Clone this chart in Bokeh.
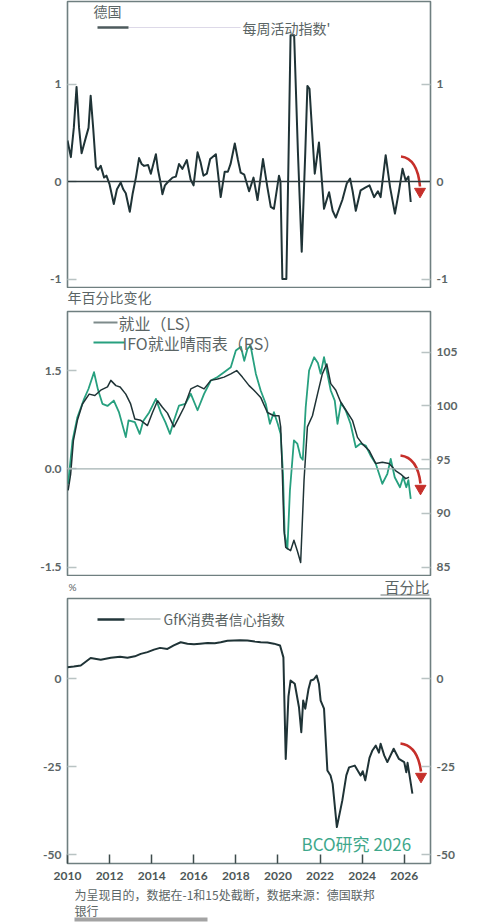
from bokeh.plotting import figure
from bokeh.layouts import column
from bokeh.models import Range1d, LinearAxis, Span, Label, FixedTicker
from bokeh.embed import file_html
from bokeh.resources import INLINE

# ---------------- data ----------------
wai_years = [2010.0, 2010.16, 2010.3, 2010.43, 2010.55, 2010.67, 2010.87, 2011.0, 2011.1, 2011.22,
             2011.35, 2011.45, 2011.58, 2011.74, 2011.85, 2012.0, 2012.2, 2012.35, 2012.53, 2012.65,
             2012.77, 2012.96, 2013.1, 2013.25, 2013.4, 2013.52, 2013.64, 2013.83, 2013.96, 2014.2,
             2014.3, 2014.43, 2014.51, 2014.63, 2014.75, 2014.99, 2015.15, 2015.3, 2015.46, 2015.67,
             2015.85, 2015.99, 2016.18, 2016.32, 2016.46, 2016.62, 2016.78, 2017.05, 2017.28, 2017.47,
             2017.62, 2017.75, 2017.95, 2018.1, 2018.23, 2018.4, 2018.63, 2018.84, 2019.03, 2019.15,
             2019.29, 2019.5, 2019.66, 2019.81, 2020.05, 2020.12, 2020.21, 2020.4, 2020.5, 2020.6,
             2020.77, 2020.95, 2021.13, 2021.3, 2021.4, 2021.5, 2021.75, 2021.95, 2022.19, 2022.3,
             2022.43, 2022.6, 2022.75, 2023.06, 2023.27, 2023.43, 2023.55, 2023.7, 2023.93, 2024.17,
             2024.35, 2024.57, 2024.75, 2024.88, 2025.12, 2025.33, 2025.56, 2025.75, 2025.92, 2026.07,
             2026.2, 2026.31]
wai_values = [0.42, 0.25, 0.55, 0.97, 0.55, 0.29, 0.45, 0.55, 0.88, 0.55,
              0.15, 0.12, 0.16, 0.04, 0.06, -0.03, -0.23, -0.08, -0.01, -0.08,
              -0.12, -0.31, -0.12, 0.04, 0.24, 0.18, 0.16, 0.17, 0.08, 0.28,
              0.12, -0.02, -0.13, -0.04, -0.01, 0.04, 0.05, 0.18, 0.13, 0.22,
              0.02, -0.04, 0.30, 0.20, 0.06, 0.08, 0.23, 0.28, -0.16, 0.10,
              0.10, 0.18, 0.39, 0.22, 0.09, 0.07, -0.10, 0.04, -0.19, 0.00,
              0.23, -0.06, -0.26, -0.28, 0.06, 0.00, -1.0, -1.0, 0.20, 1.5,
              1.5, 0.30, -0.72, 0.30, 0.98, 0.95, 0.08, 0.40, -0.28, -0.20,
              -0.11, -0.30, -0.37, -0.19, -0.02, 0.03, -0.10, -0.30, -0.09, -0.06,
              -0.04, -0.16, -0.10, -0.16, 0.27, -0.06, -0.33, -0.10, 0.13, 0.01,
              0.05, -0.21]

emp_years = [2010.03, 2010.15, 2010.28, 2010.47, 2010.71, 2011.03, 2011.3, 2011.58, 2011.9, 2012.06,
             2012.3, 2012.5, 2012.77, 2013.0, 2013.2, 2013.48, 2013.8, 2014.04, 2014.28, 2014.51,
             2014.75, 2015.06, 2015.3, 2015.54, 2015.86, 2016.18, 2016.49, 2016.81, 2017.13, 2017.44,
             2017.76, 2018.04, 2018.31, 2018.63, 2018.86, 2019.18, 2019.5, 2019.81, 2020.05, 2020.13,
             2020.21, 2020.29, 2020.37, 2020.6, 2020.76, 2020.92, 2021.08, 2021.24, 2021.4, 2021.64,
             2021.88, 2022.11, 2022.32, 2022.51, 2022.75, 2022.98, 2023.3, 2023.54, 2023.78, 2024.01,
             2024.33, 2024.65, 2024.96, 2025.28, 2025.6, 2025.83, 2026.07, 2026.23]
emp_values = [-0.33, -0.08, 0.43, 0.74, 0.99, 1.14, 1.12, 1.20, 1.25, 1.35,
              1.27, 1.25, 1.14, 0.99, 0.76, 0.74, 0.66, 0.86, 1.04, 0.94,
              0.85, 0.64, 0.79, 0.94, 1.22, 1.27, 1.22, 1.35, 1.37, 1.40,
              1.45, 1.50, 1.40, 1.27, 1.20, 1.09, 0.86, 0.81, 0.81, 0.64,
              -0.08, -0.94, -1.20, -1.25, -1.09, -1.25, -1.43, -0.18, 0.64, 0.81,
              1.14, 1.45, 1.60, 1.30, 1.20, 1.02, 0.86, 0.74, 0.48, 0.38,
              0.28, 0.08, 0.10, 0.08, -0.03, -0.08, -0.15, -0.13]

ifo_years = [2010.03, 2010.24, 2010.47, 2010.79, 2011.0, 2011.26, 2011.45, 2011.66, 2011.9, 2012.2,
             2012.45, 2012.77, 2012.9, 2013.2, 2013.43, 2013.6, 2013.88, 2014.2, 2014.45, 2014.65,
             2014.87, 2015.05, 2015.3, 2015.6, 2015.86, 2016.18, 2016.49, 2016.81, 2017.13, 2017.44,
             2017.76, 2018.0, 2018.24, 2018.4, 2018.55, 2018.7, 2018.95, 2019.18, 2019.42, 2019.62,
             2019.81, 2019.99, 2020.13, 2020.24, 2020.32, 2020.45, 2020.57, 2020.76, 2020.92, 2021.08,
             2021.18, 2021.32, 2021.48, 2021.72, 2021.9, 2022.03, 2022.19, 2022.35, 2022.51, 2022.7,
             2022.83, 2023.0, 2023.22, 2023.45, 2023.7, 2023.93, 2024.17, 2024.4, 2024.65, 2024.96,
             2025.2, 2025.36, 2025.55, 2025.8, 2025.95, 2026.1, 2026.2, 2026.31]
ifo_values = [92.76, 96.79, 98.95, 100.66, 101.6, 103.14, 101.5, 100.2, 100.0, 100.5,
              99.4, 97.1, 98.65, 98.5, 97.4, 98.6, 99.4, 100.66, 99.3, 98.5,
              97.4, 98.6, 100.04, 100.2, 101.13, 99.6, 101.13, 102.37, 102.7, 103.14,
              103.6, 105.16, 105.5, 104.2, 105.3, 105.6, 103.0, 101.44, 100.2, 98.34,
              99.42, 98.34, 97.4, 93.7, 88.1, 86.71, 92.13, 96.79, 96.5, 95.23,
              95.0, 99.88, 103.3, 104.53, 104.0, 103.0, 104.53, 103.0, 101.44, 100.5,
              98.34, 100.3, 99.58, 98.34, 96.16, 96.5, 96.32, 95.4, 94.62, 92.76,
              93.69, 95.08, 93.37, 92.44, 93.4, 92.44, 93.1, 91.36]

gfk_years = [2010.0, 2010.3, 2010.63, 2011.1, 2011.58, 2012.06, 2012.5, 2012.85, 2013.2, 2013.48,
             2013.8, 2014.11, 2014.4, 2014.75, 2015.05, 2015.38, 2015.7, 2016.01, 2016.3, 2016.65,
             2017.0, 2017.28, 2017.6, 2017.91, 2018.2, 2018.55, 2018.9, 2019.18, 2019.5, 2019.81,
             2020.1, 2020.26, 2020.37, 2020.5, 2020.6, 2020.8, 2021.0, 2021.11, 2021.2, 2021.3,
             2021.45, 2021.56, 2021.7, 2021.84, 2021.95, 2022.03, 2022.19, 2022.35, 2022.5, 2022.6,
             2022.8, 2023.06, 2023.25, 2023.38, 2023.65, 2023.93, 2024.03, 2024.15, 2024.35, 2024.49,
             2024.65, 2024.8, 2024.88, 2025.05, 2025.2, 2025.5, 2025.75, 2026.0, 2026.1, 2026.16,
             2026.39]
gfk_values = [3.3, 3.5, 3.8, 5.9, 5.4, 6.0, 6.3, 6.0, 6.4, 7.1,
              7.6, 8.3, 8.8, 8.5, 9.5, 10.4, 10.0, 9.8, 10.0, 10.2,
              10.1, 10.4, 10.8, 10.9, 11.0, 10.9, 10.6, 10.4, 10.3, 10.0,
              9.5, 6.1, -22.8, -5.0, -0.5, -1.4, -8.1, -15.2, -6.2, -8.5,
              -3.0, -0.5, -0.2, 0.9, -1.5, -6.2, -8.5, -26.1, -27.5, -29.9,
              -42.2, -34.6, -27.5, -25.2, -24.7, -27.5, -26.3, -28.9, -22.5, -20.4,
              -19.0, -21.0, -18.5, -21.8, -23.7, -19.9, -22.8, -23.7, -26.6, -23.9,
              -32.7]

x_ticks = [2010, 2012, 2014, 2016, 2018, 2020, 2022, 2024, 2026]
p1_ticks = [-1, 0, 1]
p2_left_ticks = [-1.5, 0.0, 1.5]
p2_right_ticks = [85, 90, 95, 100, 105]
p3_ticks = [-50, -25, 0]

# ---------------- layout geometry (page pixels) ----------------
W = 496
L, R = 67, 66
X0, X1 = 2010.0, 2027.25
FW = W - L - R

DARK = "#1f3336"
GREEN = "#27a07f"
RED = "#c62f2a"
TXT = "#5b6565"
FRAME = "#6f7f80"
TICK = "#b9c3c3"
CJK = "Noto Sans CJK SC"


def dx(px):
    return X0 + (px - L) * (X1 - X0) / FW


def make_dy(top_px, bot_px, y0, y1):
    def f(py):
        return y1 - (py - top_px) * (y1 - y0) / (bot_px - top_px)
    return f


def style_axis(ax, ticks, overrides=None):
    ax.ticker = FixedTicker(ticks=ticks)
    ax.axis_line_color = None
    ax.major_tick_in = 9
    ax.major_tick_out = 0
    ax.major_tick_line_color = TICK
    ax.major_tick_line_width = 1.5
    ax.minor_tick_line_color = None
    ax.major_label_text_font = "Lato"
    ax.major_label_text_font_style = "bold"
    ax.major_label_text_font_size = "12px"
    ax.major_label_text_color = TXT
    ax.major_label_standoff = 6
    if overrides:
        ax.major_label_overrides = overrides


def make_fig(height, btop, bbot, y0, y1, xaxis=False):
    p = figure(width=W, height=height, x_range=Range1d(X0, X1), y_range=Range1d(y0, y1),
               output_backend="svg", toolbar_location=None,
               x_axis_location="below" if xaxis else None, y_axis_location="left",
               min_border_left=L, min_border_right=R, min_border_top=btop, min_border_bottom=bbot)
    p.xgrid.grid_line_color = None
    p.ygrid.grid_line_color = None
    p.outline_line_color = FRAME
    p.outline_line_width = 1.6
    p.background_fill_color = "white"
    p.border_fill_color = "white"
    return p


def make_strip(height):
    # text strip between panels; its frame lines up with the panels' frames,
    # x in page pixels, y in pixels downwards from the strip's top
    s = figure(width=W, height=height, x_range=Range1d(L, W - R), y_range=Range1d(height, 0),
               output_backend="svg", toolbar_location=None,
               x_axis_location=None, y_axis_location=None,
               min_border_left=L, min_border_right=R, min_border_top=0, min_border_bottom=0)
    s.xgrid.grid_line_color = None
    s.ygrid.grid_line_color = None
    s.outline_line_color = None
    s.background_fill_color = "white"
    s.border_fill_color = "white"
    return s


def lab(p, x, y, text, size="14px", color=TXT, font=CJK, align="left"):
    p.add_layout(Label(x=x, y=y, text=text, text_font=font, text_font_size=size,
                       text_color=color, text_align=align, text_baseline="middle"))


def red_arrow(p, dy, sx, sy, cx, cy, ex, ey, hy, y_range_name="default"):
    p.quadratic(x0=[dx(sx)], y0=[dy(sy)], x1=[dx(ex)], y1=[dy(ey)], cx=[dx(cx)], cy=[dy(cy)],
                line_color=RED, line_width=2.6, y_range_name=y_range_name)
    p.scatter(x=[dx(ex)], y=[dy(hy)], marker="inverted_triangle", size=11, color=RED,
              y_range_name=y_range_name)


# ---------------- panel 1 (page 0..288, frame 1..287) ----------------
p1_y1 = 180.0 / 97.5
p1_y0 = p1_y1 - 286 / 97.5
p1 = make_fig(288, 1, 1, p1_y0, p1_y1)
dy1 = make_dy(1, 287, p1_y0, p1_y1)
style_axis(p1.yaxis[0], p1_ticks, {-1: "-1", 0: "0", 1: "1"})
r1 = LinearAxis()
style_axis(r1, p1_ticks, {-1: "-1", 0: "0", 1: "1"})
p1.add_layout(r1, "right")
p1.add_layout(Span(location=0, dimension="width", line_color="#2c3a3c", line_width=1.3))
p1.line(wai_years, wai_values, line_color=DARK, line_width=2, line_join="round")
p1.line([dx(128), dx(240)], [dy1(27), dy1(27)], line_color="#ddd9e8", line_width=1)
p1.line([dx(97), dx(128)], [dy1(27), dy1(27)], line_color="#4d5a5c", line_width=2.5)
lab(p1, dx(93), dy1(10), "德国")
lab(p1, dx(242), dy1(27), "每周活动指数'")
red_arrow(p1, dy1, 400.5, 156, 417, 158, 419.5, 186, 191)

# ---------------- strip A (page 288..310) ----------------
sA = make_strip(22)
sA.line([L, L + 1], [30, 30], line_color=None)
lab(sA, 67, 8, "年百分比变化")

# ---------------- panel 2 (page 310..576, frame 311..575) ----------------
p2_y1 = (468.3 - 311) / 65.5
p2_y0 = -(575 - 468.3) / 65.5
p2_r1 = 105 + (351.7 - 311) / 10.75
p2_r0 = 85 - (575 - 566.7) / 10.75
p2 = make_fig(266, 1, 1, p2_y0, p2_y1)
p2.extra_y_ranges = {"rs": Range1d(p2_r0, p2_r1)}
dy2 = make_dy(311, 575, p2_y0, p2_y1)
style_axis(p2.yaxis[0], p2_left_ticks, {-1.5: "-1.5", 0: "0.0", 1.5: "1.5"})
r2 = LinearAxis(y_range_name="rs")
style_axis(r2, p2_right_ticks)
p2.add_layout(r2, "right")
p2.add_layout(Span(location=0, dimension="width", line_color="#a3b2b2", line_width=1.2))
p2.line(ifo_years, ifo_values, line_color=GREEN, line_width=1.8, line_join="round", y_range_name="rs")
p2.line(emp_years, emp_values, line_color=DARK, line_width=1.5, line_join="round")
p2.line([dx(93), dx(117)], [dy2(322), dy2(322)], line_color="#7e8b8b", line_width=2)
p2.line([dx(93), dx(124)], [dy2(342), dy2(342)], line_color=GREEN, line_width=2)
lab(p2, dx(118), dy2(322), "就业（LS）", size="16px")
lab(p2, dx(122), dy2(342), "IFO就业晴雨表（RS）", size="16px")
red_arrow(p2, dy2, 400, 455, 417, 457, 420, 483, 488)

# ---------------- strip B (page 576..597) ----------------
sB = make_strip(21)
sB.line([380, 429], [18.5, 18.5], line_color="#6a7474", line_width=1)
lab(sB, 68, 10, "%", size="10px", font="Lato")
lab(sB, 384, 10, "百分比", size="15px")

# ---------------- panel 3 (page 597..885, frame 598..863) ----------------
p3_y1 = (678.3 - 598) / 3.514
p3_y0 = p3_y1 - 265 / 3.514
p3 = make_fig(288, 1, 22, p3_y0, p3_y1, xaxis=True)
dy3 = make_dy(598, 863, p3_y0, p3_y1)
style_axis(p3.yaxis[0], p3_ticks, {-50: "-50", -25: "-25", 0: "0"})
r3 = LinearAxis()
style_axis(r3, p3_ticks, {-50: "-50", -25: "-25", 0: "0"})
p3.add_layout(r3, "right")
xa = p3.xaxis[0]
style_axis(xa, x_ticks)
xa.major_tick_line_color = "#3e4c4c"
xa.major_tick_in = 9
xa.major_label_text_color = "#4d5757"
xa.major_label_standoff = 8
p3.line(gfk_years, gfk_values, line_color=DARK, line_width=2, line_join="round")
p3.line([dx(124), dx(160)], [dy3(618.5), dy3(618.5)], line_color="#9aa6a6", line_width=1)
p3.line([dx(97), dx(124)], [dy3(619), dy3(619)], line_color="#22363a", line_width=2.5)
lab(p3, dx(163), dy3(618), "GfK消费者信心指数")
lab(p3, dx(301), dy3(843), "BCO研究 2026", size="17px", color="#3fa88c")
red_arrow(p3, dy3, 400, 743, 417, 745, 420.5, 771, 776)

# ---------------- strip C (page 885..922) ----------------
sC = make_strip(37)
sC.quad(left=[74], right=[207], top=[32], bottom=[36], fill_color="#a3a3a3", line_color=None)
lab(sC, 74, 9, "为呈现目的，数据在-1和15处截断，数据来源：德国联邦", size="12px")
lab(sC, 74, 25, "银行", size="12px")

layout = column(p1, sA, p2, sB, p3, sC, spacing=0)
open("out.html", "w").write(file_html(layout, INLINE))
